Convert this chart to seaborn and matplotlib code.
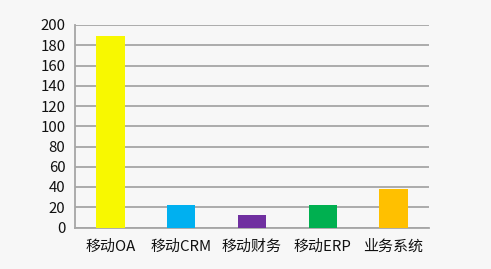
import matplotlib
matplotlib.use("Agg")
import matplotlib.pyplot as plt
import seaborn as sns
import pandas as pd
import numpy as np
from matplotlib.ticker import FixedLocator

categories = ["移动OA", "移动CRM", "移动财务", "移动ERP", "业务系统"]
values = [189, 22, 12, 22, 38]
colors = ["#f8f800", "#00b0f0", "#7030a0", "#00b050", "#ffc000"]
yticks = [0, 20, 40, 60, 80, 100, 120, 140, 160, 180, 200]

sns.set_style("white")
plt.rcParams['font.family'] = ['Noto Sans CJK SC', 'DejaVu Sans']

bg = "#f7f7f7"
fig = plt.figure(figsize=(4.91, 2.69), dpi=100, facecolor=bg)
ax = fig.add_axes([75/491, 1-227.5/269, (429-75)/491, (227.5-25)/269])
ax.set_facecolor(bg)

df = pd.DataFrame({"cat": categories, "val": values})
sns.barplot(data=df, x="cat", y="val", hue="cat", palette=colors, width=0.4,
            legend=False, ax=ax, zorder=3, saturation=1, edgecolor="none")

ax.set_ylim(0, 200)
ax.set_xlim(-0.5, len(categories) - 0.5)
ax.set_yticks(yticks)
ax.yaxis.grid(True, color="#a6a6a6", linewidth=1.3, zorder=0)
ax.set_axisbelow(True)
ax.set_xlabel("")
ax.set_ylabel("")

for s in ["top", "right"]:
    ax.spines[s].set_visible(False)
for s in ["left", "bottom"]:
    ax.spines[s].set_color("#a6a6a6")
    ax.spines[s].set_linewidth(1.3)

ax.tick_params(axis="y", length=4, color="#a6a6a6", width=1.2, labelsize=10.8, labelcolor="#111111", pad=3)
ax.tick_params(axis="x", which="major", length=0, labelsize=10.8, labelcolor="#111111", pad=9)
ax.xaxis.set_minor_locator(FixedLocator(np.arange(-0.5, len(categories), 1.0)))
ax.tick_params(axis="x", which="minor", length=5, color="#a6a6a6", width=1.2)

fig.savefig("out.png", dpi=100, facecolor=bg)
